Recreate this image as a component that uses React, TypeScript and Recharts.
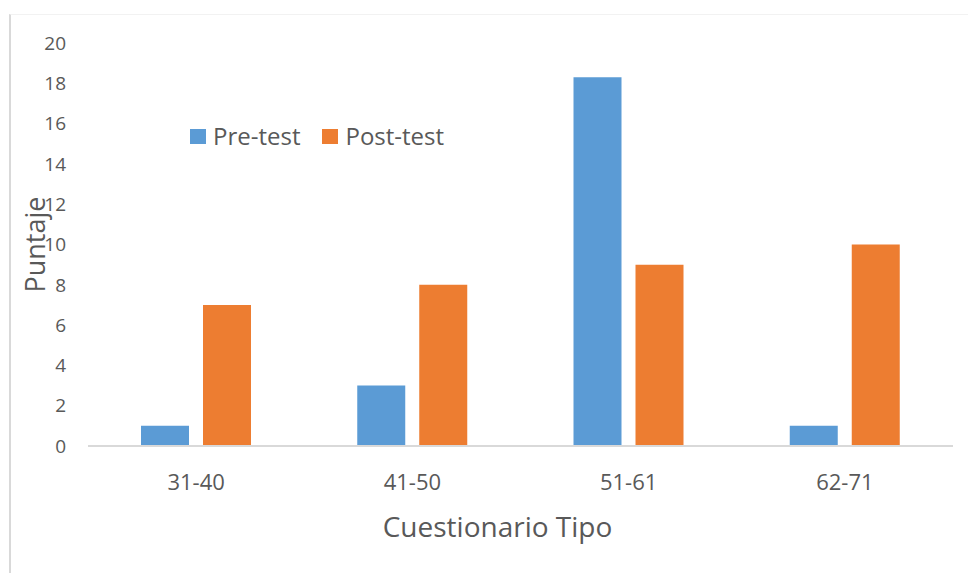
import React from "react";
import { BarChart, Bar, XAxis, YAxis, Label } from "recharts";

const categories = ["31-40", "41-50", "51-61", "62-71"];
const preTest = [1, 3, 18.3, 1];
const postTest = [7, 8, 9, 10];
const yTicks = [0, 2, 4, 6, 8, 10, 12, 14, 16, 18, 20];

const data = categories.map((name, i) => ({
  name,
  "Pre-test": preTest[i],
  "Post-test": postTest[i],
}));

const FONT = "'Open Sans', sans-serif";
const TEXT = "#595959";
const BLUE = "#5B9BD5";
const ORANGE = "#ED7D31";

const legendItems = [
  { label: "Pre-test", color: BLUE },
  { label: "Post-test", color: ORANGE },
];

// legend sits inside the plot, drawn as plain html so it takes no room from the axes
function ChartLegend() {
  return (
    <div
      style={{
        position: "absolute",
        left: 190,
        top: 119,
        display: "flex",
        alignItems: "center",
        fontFamily: FONT,
        fontSize: 24,
        color: TEXT,
        lineHeight: "34px",
      }}
    >
      {legendItems.map((it, i) => (
        <div key={it.label} style={{ display: "flex", alignItems: "center", marginRight: i === 0 ? 22 : 0 }}>
          <span style={{ width: 16, height: 15, background: it.color, display: "inline-block", marginRight: 7 }} />
          <span>{it.label}</span>
        </div>
      ))}
    </div>
  );
}

export default function App() {
  return (
    <div style={{ position: "absolute", left: 0, top: 0, width: 968, height: 573, background: "#fff" }}>
      <div
        style={{
          position: "absolute",
          left: 9,
          top: 14,
          width: 959,
          height: 559,
          borderLeft: "2px solid #d9d9d9",
          borderTop: "1px solid #f2f2f2",
        }}
      />
      <BarChart
        width={968}
        height={573}
        data={data}
        margin={{ top: 43, right: 15, left: 0, bottom: 0 }}
        barCategoryGap={53}
        barGap={14}
      >
        <XAxis
          dataKey="name"
          height={127}
          axisLine={{ stroke: "#d9d9d9", strokeWidth: 2 }}
          tickLine={false}
          tickSize={0}
          tickMargin={28}
          tick={{ fontFamily: FONT, fontSize: 22, fill: TEXT }}
        >
          <Label
            content={({ viewBox }: any) => (
              <text
                x={viewBox.x + viewBox.width / 2 - 23}
                y={viewBox.y + 91}
                textAnchor="middle"
                fontFamily={FONT}
                fontSize={28}
                fill={TEXT}
              >
                Cuestionario Tipo
              </text>
            )}
          />
        </XAxis>
        <YAxis
          width={88}
          domain={[0, 20]}
          ticks={yTicks}
          interval={0}
          axisLine={false}
          tickLine={false}
          tickSize={0}
          tickMargin={22}
          tick={{ fontFamily: FONT, fontSize: 19, fill: TEXT }}
        >
          <Label
            content={({ viewBox }: any) => {
              const cx = 34;
              const cy = viewBox.y + viewBox.height / 2;
              return (
                <text
                  x={cx}
                  y={cy}
                  transform={`rotate(-90 ${cx} ${cy})`}
                  textAnchor="middle"
                  dominantBaseline="central"
                  fontFamily={FONT}
                  fontSize={27}
                  fill={TEXT}
                >
                  Puntaje
                </text>
              );
            }}
          />
        </YAxis>
        <Bar dataKey="Pre-test" fill={BLUE} barSize={48} isAnimationActive={false} />
        <Bar dataKey="Post-test" fill={ORANGE} barSize={48} isAnimationActive={false} />
      </BarChart>
      <ChartLegend />
    </div>
  );
}
